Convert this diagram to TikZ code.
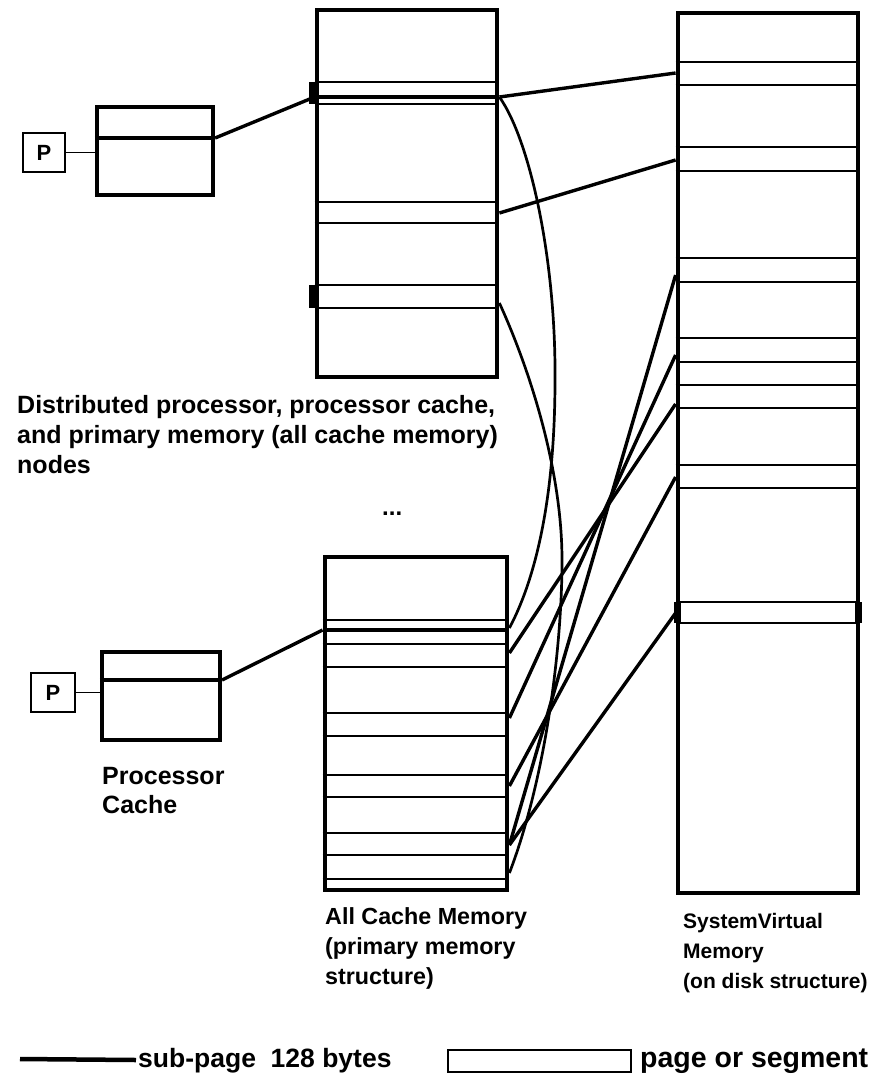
\documentclass[tikz,border=0pt]{standalone}
\usepackage{fontspec}
\setmainfont{Liberation Sans}
\begin{document}
\begin{tikzpicture}[x=1pt,y=-1pt,
  colbox/.style={draw, line width=4.8pt, inner sep=0pt},
  cachebox/.style={draw, line width=4.2pt, inner sep=0pt},
  pbox/.style={draw, line width=1.8pt, inner sep=0pt, font=\fontsize{22}{22}\selectfont\bfseries},
  stripe/.style={line width=2.4pt},
  subpage/.style={line width=4.6pt},
  markbar/.style={line width=7pt},
  conn/.style={line width=3.4pt},
  bendconn/.style={line width=2.7pt},
  lbl/.style={font=\fontsize{24}{30}\selectfont\bfseries, align=left, inner sep=0pt, anchor=north west}
]
\useasboundingbox (0,0) rectangle (889,1090);

% columns
\node[colbox, minimum width=180pt, minimum height=367pt] (topcol) at (407,193.5) {};
\node[colbox, minimum width=182pt, minimum height=333pt] (botcol) at (416,723.5) {};
\node[colbox, minimum width=180pt, minimum height=880pt] (vmcol) at (768,453) {};

% stripes
\foreach \y in {82,104,202,223,285,308}
  \draw[stripe] (topcol.west |- 0,\y) -- (topcol.east |- 0,\y);
\draw[subpage] (topcol.west |- 0,97) -- (topcol.east |- 0,97);
\draw[markbar] ([xshift=-2pt]topcol.west |- 0,82) -- ([xshift=-2pt]topcol.west |- 0,104);
\draw[markbar] ([xshift=-2pt]topcol.west |- 0,285) -- ([xshift=-2pt]topcol.west |- 0,308);

\foreach \y in {620,644,667,713,736,775,797,833,855,879}
  \draw[stripe] (botcol.west |- 0,\y) -- (botcol.east |- 0,\y);
\draw[subpage] (botcol.west |- 0,630) -- (botcol.east |- 0,630);

\foreach \y in {62,85,147,171,258,282,338,362,385,408,465,488,602,623}
  \draw[stripe] (vmcol.west |- 0,\y) -- (vmcol.east |- 0,\y);
\draw[markbar] ([xshift=2pt]vmcol.west |- 0,602) -- ([xshift=2pt]vmcol.west |- 0,623);
\draw[markbar] ([xshift=-2pt]vmcol.east |- 0,602) -- ([xshift=-2pt]vmcol.east |- 0,623);

% processor caches
\node[cachebox, minimum width=116pt, minimum height=88pt] (c1) at (155,151) {};
\draw[subpage] (c1.west |- 0,138) -- (c1.east |- 0,138);
\node[pbox, minimum width=42pt, minimum height=39pt] (p1) at (44,152.5) {P};
\draw[line width=1.8pt] (p1.east) -- (p1.east -| c1.west);

\node[cachebox, minimum width=118pt, minimum height=88pt] (c2) at (161,696) {};
\draw[subpage] (c2.west |- 0,680) -- (c2.east |- 0,680);
\node[pbox, minimum width=44pt, minimum height=39pt] (p2) at (53,692.5) {P};
\draw[line width=1.8pt] (p2.east) -- (p2.east -| c2.west);

% anchor points
\coordinate (c1e) at (c1.east |- 0,138);
\coordinate (c2e) at (c2.east |- 0,680);
\coordinate (tw97) at (topcol.west |- 0,97);
\coordinate (te97) at (topcol.east |- 0,97);
\coordinate (te213) at (topcol.east |- 0,213);
\coordinate (te303) at (topcol.east |- 0,303);
\coordinate (bw630) at (botcol.west |- 0,630);
\coordinate (be628) at (botcol.east |- 0,628);
\coordinate (be653) at (botcol.east |- 0,653);
\coordinate (be717) at (botcol.east |- 0,718);
\coordinate (be787) at (botcol.east |- 0,786);
\coordinate (be845) at (botcol.east |- 0,845);
\coordinate (be873) at (botcol.east |- 0,873);
\coordinate (vw73) at (vmcol.west |- 0,73);
\coordinate (vw160) at (vmcol.west |- 0,160);
\coordinate (vw277) at (vmcol.west |- 0,275);
\coordinate (vw357) at (vmcol.west |- 0,355);
\coordinate (vw407) at (vmcol.west |- 0,404);
\coordinate (vw477) at (vmcol.west |- 0,477);
\coordinate (vw613) at (vmcol.west |- 0,613);

% connectors
\draw[conn] (c1e) -- (tw97);
\draw[conn] (c2e) -- (bw630);
\draw[conn] (te97) -- (vw73);
\draw[conn] (te213) -- (vw160);
\draw[bendconn] (te97) .. controls (530,140) and (556,260) .. (555,380)
                       .. controls (555,500) and (535,580) .. (be628);
\draw[bendconn] (te303) .. controls (530,370) and (562,470) .. (562,560)
                        .. controls (562,650) and (545,780) .. (be873);
\draw[conn] (vw277) -- (be845);
\draw[conn] (vw357) -- (be717);
\draw[conn] (vw407) -- (be653);
\draw[conn] (vw477) -- (be787);
\draw[conn] (vw613) -- (be845);

% labels
\node[lbl, font=\fontsize{25}{30}\selectfont\bfseries] (dlabel) at (17,395) {Distributed processor, processor cache,\\and primary memory (all cache memory)\\nodes};
\node[lbl] (dots) at (382,512) {...};
\node[lbl, font=\fontsize{25}{29}\selectfont\bfseries] (pclabel) at (102,767) {Processor\\Cache};
\node[lbl, font=\fontsize{23.3}{30}\selectfont\bfseries] (acmlabel) at (325,907) {All Cache Memory\\(primary memory\\structure)};
\node[lbl, font=\fontsize{21}{30}\selectfont\bfseries] (svmlabel) at (683,913) {SystemVirtual\\Memory\\(on disk structure)};

% legend
\coordinate (lg1) at (20,1059);
\coordinate (lg2) at (136,1060);
\draw[line width=4.5pt] (lg1) -- (lg2);
\node[lbl, anchor=west, font=\fontsize{26.5}{30}\selectfont\bfseries] (lgt1) at (138,1061) {sub-page\ \ 128 bytes};
\node[draw, line width=2pt, minimum width=183pt, minimum height=22pt, inner sep=0pt] (lgbox) at (539.5,1061) {};
\node[lbl, anchor=west, font=\fontsize{28.5}{30}\selectfont\bfseries] (lgt2) at (640,1061) {page or segment};
\end{tikzpicture}
\end{document}
